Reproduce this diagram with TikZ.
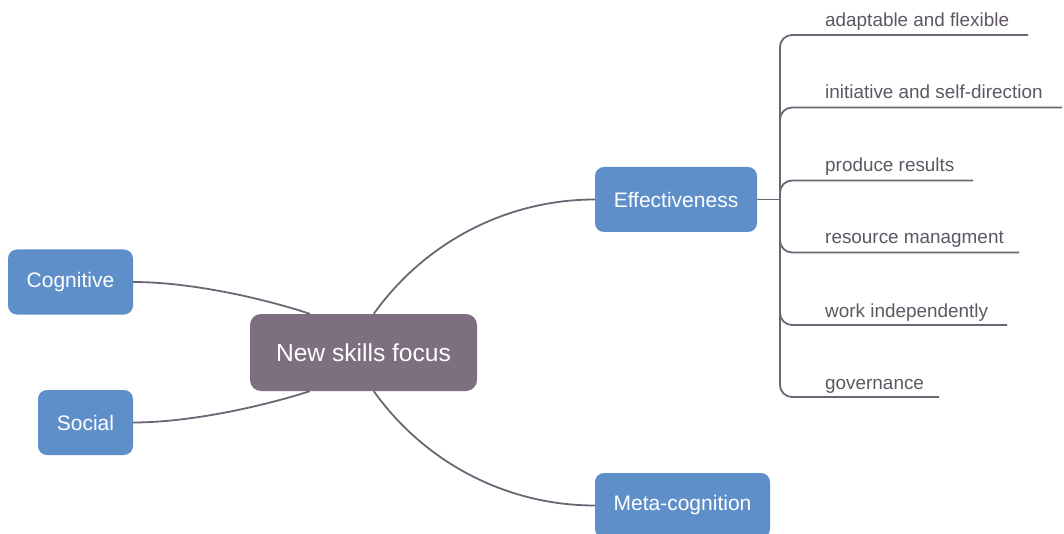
\documentclass[tikz,border=0pt]{standalone}
\usepackage{fontspec}
\setmainfont{Liberation Sans}
\definecolor{boxblue}{HTML}{5E8FC9}
\definecolor{hubpurple}{HTML}{7D6E80}
\definecolor{linegray}{HTML}{6E6473}
\definecolor{leaftext}{HTML}{5E5662}
\begin{document}
\begin{tikzpicture}[x=1pt,y=-1pt,
  topic/.style={fill=boxblue, rounded corners=9pt, text=white, font=\fontsize{21}{25}\selectfont, minimum height=65pt, inner sep=0pt},
  central/.style={fill=hubpurple, rounded corners=11pt, text=white, font=\fontsize{24.6}{29}\selectfont, minimum width=227pt, minimum height=77pt, inner sep=0pt},
  leaf/.style={anchor=base west, text=leaftext, font=\fontsize{18.9}{22}\selectfont, inner sep=0pt},
  link/.style={draw=linegray, line width=1.8pt},
  branch/.style={link, rounded corners=12pt}]
\useasboundingbox (0,0) rectangle (1064,534);

% nodes
\node[central] (cen) at (363.5,352.5) {New skills focus};
\node[topic, minimum width=162pt] (eff) at (676,199.5) {Effectiveness};
\node[topic, minimum width=125pt] (cog) at (70.5,282) {Cognitive};
\node[topic, minimum width=95pt] (soc) at (85.5,422.5) {Social};
\node[topic, minimum width=175pt] (meta) at (682.5,505.5) {Meta-cognition};

% attachment points on the central node
\coordinate (cNW) at ([xshift=60pt]cen.north west);
\coordinate (cSW) at ([xshift=60pt]cen.south west);
\coordinate (cNE) at ([xshift=124pt]cen.north west);
\coordinate (cSE) at ([xshift=124pt]cen.south west);

% main connectors
\draw[link] (cog.east) .. controls (190,282) and (262,298) .. (cNW);
\draw[link] (soc.east) .. controls (190,422.5) and (262,406.5) .. (cSW);
\draw[link] (cNE) .. controls (425,242) and (507,199.5) .. (eff.west);
\draw[link] (cSE) .. controls (425,463) and (507,505.5) .. (meta.west);

% hub of the bracket
\coordinate (hub) at (780,199.5);
\draw[link] (eff.east) -- (hub);

% leaves
\node[leaf] (l1) at (825,27) {adaptable and flexible};
\node[leaf] (l2) at (825,99) {initiative and self-direction};
\node[leaf] (l3) at (825,172) {produce results};
\node[leaf] (l4) at (825,244) {resource managment};
\node[leaf] (l5) at (825,317) {work independently};
\node[leaf] (l6) at (825,389) {governance};

\coordinate (e1) at (1028,35);
\coordinate (e2) at (1062,107.5);
\coordinate (e3) at (973,180.5);
\coordinate (e4) at (1019,252.5);
\coordinate (e5) at (1007,325);
\coordinate (e6) at (939,397);

\foreach \e in {e1,e2,e3,e4,e5,e6}
  \draw[branch] (hub) |- (\e);
\end{tikzpicture}
\end{document}
